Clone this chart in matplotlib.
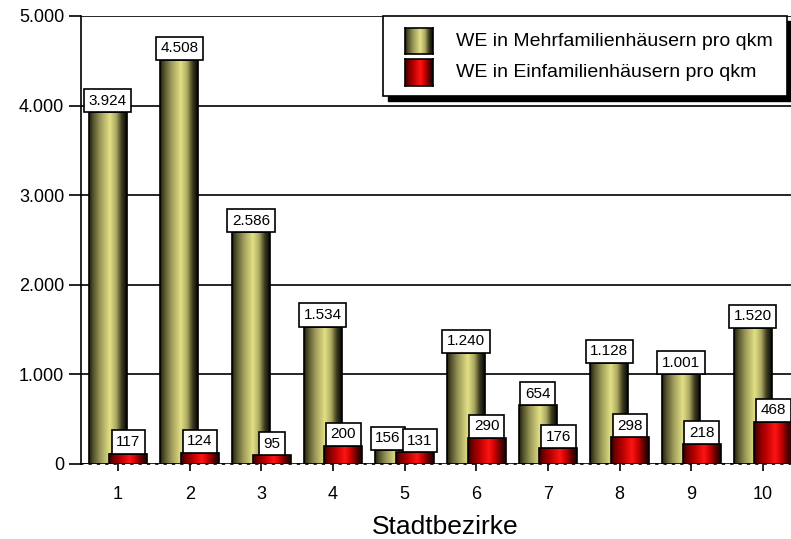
import numpy as np
import matplotlib
matplotlib.use("Agg")
import matplotlib.pyplot as plt
from matplotlib.colors import LinearSegmentedColormap
from matplotlib.patches import Rectangle

plt.rcParams["font.family"] = ["Liberation Sans", "DejaVu Sans"]

# --- Data ---
bezirke = [1, 2, 3, 4, 5, 6, 7, 8, 9, 10]
mehrfamilien = [3924, 4508, 2586, 1534, 156, 1240, 654, 1128, 1001, 1520]
einfamilien = [117, 124, 95, 200, 131, 290, 176, 298, 218, 468]
series_names = ["WE in Mehrfamilienhäusern pro qkm", "WE in Einfamilienhäusern pro qkm"]
y_ticks = [0, 1000, 2000, 3000, 4000, 5000]


def de_num(v):
    return f"{v:,}".replace(",", ".")


# cylinder-like shading across each bar
stops = [0.0, 0.1, 0.3, 0.55, 0.72, 0.86, 1.0]
olive_cmap = LinearSegmentedColormap.from_list(
    "olive", list(zip(stops, ["#1c1c0c", "#4f4e2b", "#9c9a5a", "#e3e086",
                              "#aaa760", "#3e3d20", "#050502"])))
red_cmap = LinearSegmentedColormap.from_list(
    "redbar", list(zip(stops, ["#2a0000", "#6e0000", "#b80000", "#ff1414",
                               "#c40000", "#5e0000", "#1a0000"])))
grad = np.linspace(0, 1, 256)[np.newaxis, :]

W, H = 791, 539
fig = plt.figure(figsize=(W / 100, H / 100), dpi=100)
ax = fig.add_axes([81 / W, 75 / H, 710 / W, 448 / H])

xlim = (0.484, 10.39)
ylim = (0, 5000)

width = 0.53
offset = 0.145


def gradient_bar(x, h, cmap, z):
    ax.imshow(grad, cmap=cmap, extent=[x - width / 2, x + width / 2, 0, h],
              aspect="auto", interpolation="bilinear", zorder=z)
    ax.bar(x, h, width=width, fill=False, edgecolor="black", linewidth=1.2, zorder=z + 0.1)


def value_box(x, h, v, dx=0):
    ax.annotate(de_num(v), xy=(x, h), xytext=(dx, 3.3), textcoords="offset points",
                ha="center", va="bottom", fontsize=11, zorder=6,
                bbox=dict(boxstyle="square,pad=0.3", fc="white", ec="black", lw=1.2))


for b, v in zip(bezirke, mehrfamilien):
    gradient_bar(b - offset, v, olive_cmap, 2)
for b, v in zip(bezirke, einfamilien):
    gradient_bar(b + offset, v, red_cmap, 3)
# labels of the two short bars in Bezirk 5 are pushed apart
for b, v in zip(bezirke, mehrfamilien):
    value_box(b - offset, v, v, dx=-4.5 if b == 5 else 0)
for b, v in zip(bezirke, einfamilien):
    value_box(b + offset, v, v, dx=3.5 if b == 5 else 0)

ax.set_xlim(*xlim)
ax.set_ylim(*ylim)

# axes styling
for s in ["top", "right"]:
    ax.spines[s].set_visible(False)
ax.spines["left"].set_linewidth(1.2)
ax.spines["bottom"].set_linewidth(1.2)
ax.spines["bottom"].set_linestyle((0, (1, 4)))
ax.set_yticks(y_ticks)
ax.set_yticklabels([de_num(t) for t in y_ticks])
ax.set_xticks(bezirke)
ax.set_xticklabels([str(b) for b in bezirke])
ax.tick_params(axis="y", direction="out", length=9, width=1.2, labelsize=13, pad=3)
ax.tick_params(axis="x", direction="out", length=5, width=1.2, labelsize=13, pad=11)
ax.yaxis.grid(True, color="black", linewidth=1.2, zorder=0)
ax.set_axisbelow(True)
ax.axhline(0, color="black", lw=1.2, xmin=0, xmax=0.01, zorder=1)
ax.set_xlabel("Stadtbezirke", fontsize=19, va="center")
ax.xaxis.set_label_coords(0.513, -0.14)

# legend box with black drop shadow
lx0, ly0, lx1, ly1 = 383, 16, 787, 96
fig.add_artist(Rectangle(((lx0 + 5) / W, 1 - (ly1 + 5) / H), (lx1 - lx0) / W, (ly1 - ly0) / H,
                         transform=fig.transFigure, fc="black", ec="black", zorder=10))
fig.add_artist(Rectangle((lx0 / W, 1 - ly1 / H), (lx1 - lx0) / W, (ly1 - ly0) / H,
                         transform=fig.transFigure, fc="white", ec="black", lw=1.2, zorder=11))
for (top, bot), cmap, name in zip([(28, 54), (59, 86)], [olive_cmap, red_cmap], series_names):
    sw = fig.add_axes([405 / W, 1 - bot / H, 28 / W, (bot - top) / H], zorder=12)
    sw.imshow(grad, cmap=cmap, aspect="auto", interpolation="bilinear")
    sw.set_xticks([])
    sw.set_yticks([])
    for sp in sw.spines.values():
        sp.set_linewidth(1.2)
    fig.text(456 / W, 1 - (top + bot) / 2 / H, name, fontsize=14, va="center", ha="left", zorder=13)

fig.savefig("out.png", dpi=100)
